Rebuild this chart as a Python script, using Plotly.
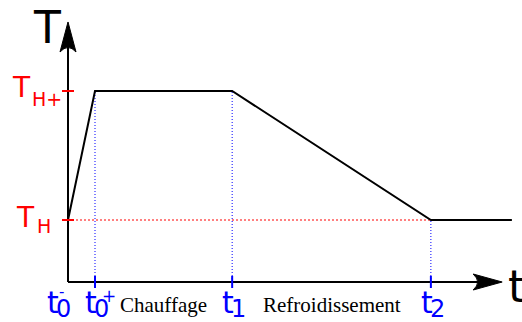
import plotly.graph_objects as go

# Thermal cycle: instants (arbitrary time units) and temperature levels
times = [0.0, 0.5, 3.04, 6.72, 8.22]          # t0-, t0+, t1, t2, end of trace
T_H = 1.0                                      # holding temperature
T_HP = 2.0                                     # heated temperature
temps = [T_H, T_HP, T_HP, T_H, T_H]

# Time axis labels: base letter, subscript, superscript
tick_times = [0.0, 0.5, 3.04, 6.72]
tick_base = ["t", "t", "t", "t"]
tick_sub = ["0", "0", "1", "2"]
tick_sup = ["-", "+", "", ""]

# Temperature axis labels
level_values = [T_HP, T_H]
level_base = ["T", "T"]
level_sub = ["H+", "H"]

phase_names = ["Chauffage", "Refroidissement"]
phase_bounds = [(0.5, 3.04), (3.04, 6.72)]

# Layout scale (pixels per unit) and axis geometry
PX_T = 54.0
PX_K = 129.0
W, H = 522, 322
ORIGIN_PX = (68, 282)
T_FLOOR = T_H - (ORIGIN_PX[1] - 220) / PX_K   # temperature at the time axis
T_ARROW = 8.04                                  # tip of the time axis
K_ARROW = T_HP + 0.535                          # tip of the temperature axis

x_range = [-ORIGIN_PX[0] / PX_T, (W - ORIGIN_PX[0]) / PX_T]
y_range = [T_H - (H - 220) / PX_K, T_HP + 91 / PX_K]

BLUE = "#0000ff"
RED = "#ff0000"
SANS = "DejaVu Sans"
SERIF = "Liberation Serif"

fig = go.Figure()

# The temperature history
fig.add_trace(go.Scatter(x=times, y=temps, mode="lines",
                         line=dict(color="black", width=2),
                         hoverinfo="skip", showlegend=False))

shapes = []

# Dotted guides
for t in tick_times[1:]:
    level = temps[times.index(t)]
    shapes.append(dict(type="line", xref="x", yref="y", x0=t, x1=t,
                       y0=T_FLOOR, y1=level, layer="below",
                       line=dict(color=BLUE, width=1, dash="1px,2px")))
shapes.append(dict(type="line", xref="x", yref="y", x0=0, x1=tick_times[-1],
                   y0=T_H, y1=T_H, layer="below",
                   line=dict(color=RED, width=1, dash="2px,2px")))

# Axes
shapes.append(dict(type="line", xref="x", yref="y", x0=0, x1=T_ARROW - 0.3,
                   y0=T_FLOOR, y1=T_FLOOR, line=dict(color="black", width=2)))
shapes.append(dict(type="line", xref="x", yref="y", x0=0, x1=0,
                   y0=T_FLOOR, y1=K_ARROW - 0.15, line=dict(color="black", width=2)))
# Arrowheads (pixel offsets from the tips)
shapes.append(dict(type="path", xref="x", yref="y", xsizemode="pixel", ysizemode="pixel",
                   xanchor=T_ARROW, yanchor=T_FLOOR,
                   path="M0,0 L-29,8 Q-20,0 -29,-8 Z",
                   fillcolor="black", line=dict(color="black", width=1)))
shapes.append(dict(type="path", xref="x", yref="y", xsizemode="pixel", ysizemode="pixel",
                   xanchor=0, yanchor=K_ARROW,
                   path="M0,0 L8,-30 Q0,-21 -8,-30 Z",
                   fillcolor="black", line=dict(color="black", width=1)))

# Ticks
for v in level_values:
    shapes.append(dict(type="line", xref="x", yref="y", xsizemode="pixel", xanchor=0,
                       x0=-6, x1=6, y0=v, y1=v, line=dict(color=RED, width=2)))
for t in tick_times[1:]:
    shapes.append(dict(type="line", xref="x", yref="y", ysizemode="pixel", yanchor=T_FLOOR,
                       x0=t, x1=t, y0=-6, y1=6, line=dict(color=BLUE, width=2)))

annotations = []


def note(text, x, y, size, color, family, xanchor="center", xshift=0, yshift=0):
    annotations.append(dict(text=text, x=x, y=y, xref="x", yref="y", showarrow=False,
                            xanchor=xanchor, yanchor="middle", xshift=xshift, yshift=yshift,
                            font=dict(size=size, color=color, family=family)))


# Axis names
note("T", 0, K_ARROW, 44, "black", SANS, xshift=-21.5, yshift=-5.5)
note("t", T_ARROW, T_FLOOR, 44, "black", SANS, xanchor="left", xshift=3.7, yshift=-4.8)

# Time labels
for i, t in enumerate(tick_times):
    off = -11 if i == 0 else 0
    note(tick_base[i], t, T_FLOOR, 30, BLUE, SANS, xanchor="right",
         xshift=off + 4, yshift=-20.5)
    note(tick_sub[i], t, T_FLOOR, 24, BLUE, SANS, xanchor="left",
         xshift=off - 3, yshift=-27)
    if tick_sup[i] == "-":
        note(tick_sup[i], t, T_FLOOR, 15, BLUE, SANS, xshift=off + 4, yshift=-10)
    elif tick_sup[i] == "+":
        note(tick_sup[i], t, T_FLOOR, 17, BLUE, SANS, xshift=off + 14, yshift=-14)

# Temperature labels
note(level_base[0], 0, level_values[0], 28, RED, SANS, xshift=-47, yshift=3.7)
note(level_sub[0], 0, level_values[0], 19, RED, SANS, xshift=-21, yshift=-8.4)
note(level_base[1], 0, level_values[1], 28, RED, SANS, xshift=-43, yshift=2.7)
note(level_sub[1], 0, level_values[1], 19, RED, SANS, xshift=-24.5, yshift=-6.4)

# Phase names between the instants
for name, (a, b) in zip(phase_names, phase_bounds):
    note(name, (a + b) / 2, T_FLOOR, 21, "black", SERIF, yshift=-22.9)

fig.update_layout(
    width=W, height=H,
    margin=dict(l=0, r=0, t=0, b=0),
    paper_bgcolor="white", plot_bgcolor="white",
    xaxis=dict(range=x_range, visible=False, fixedrange=True),
    yaxis=dict(range=y_range, visible=False, fixedrange=True),
    shapes=shapes, annotations=annotations, showlegend=False,
)

fig.write_html("out.html")
